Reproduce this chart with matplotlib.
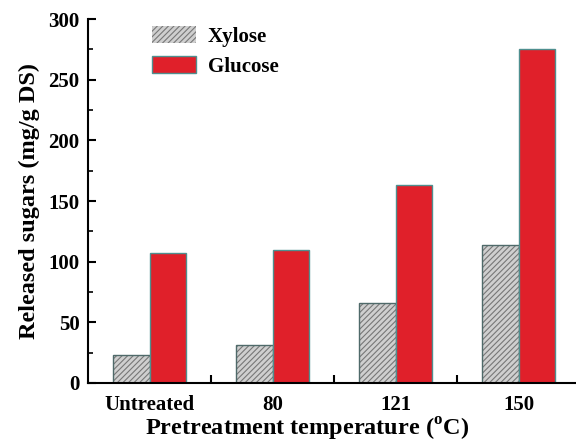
import matplotlib
matplotlib.use("Agg")
import matplotlib.pyplot as plt
import numpy as np
from matplotlib.ticker import MultipleLocator

categories = ["Untreated", "80", "121", "150"]
xylose = [23, 31, 66, 114]
glucose = [107, 110, 163, 275]

plt.rcParams['font.family'] = ['Liberation Serif', 'DejaVu Serif']
plt.rcParams['font.weight'] = 'bold'
plt.rcParams['hatch.linewidth'] = 0.8
plt.rcParams['mathtext.fontset'] = 'custom'
plt.rcParams['mathtext.rm'] = 'Liberation Serif:bold'
plt.rcParams['mathtext.bf'] = 'Liberation Serif:bold'

fig = plt.figure(figsize=(5.76, 4.44), dpi=100)
ax = fig.add_axes([88/576, 1-383/444, (580-88)/576, (383-19)/444])

x = np.arange(len(categories))
w = 0.3
ax.bar(x - w/2, xylose, w, color='#cfcfcf', edgecolor='#777777', hatch='//////', linewidth=0, label='Xylose')
ax.bar(x - w/2, xylose, w, fill=False, edgecolor='#4f6a6a', linewidth=1.0)
ax.bar(x + w/2, glucose, w, color='#e0202a', edgecolor='#4f8f8f', linewidth=1.0, label='Glucose')

ax.set_xlim(-0.5, 3.5)
ax.set_ylim(0, 300)
ax.spines['top'].set_visible(False)
ax.spines['right'].set_visible(False)
ax.spines['left'].set_linewidth(1.5)
ax.spines['bottom'].set_linewidth(1.5)

ax.set_xticks([0.5, 1.5, 2.5])
ax.set_xticklabels([])
ax.tick_params(axis='x', which='major', direction='in', length=6, width=1.5)
for xi, c in zip(x, categories):
    ax.text(xi, -10, c, ha='center', va='top', fontsize=15, fontweight='bold',
            transform=ax.transData)

ax.yaxis.set_major_locator(MultipleLocator(50))
ax.yaxis.set_minor_locator(MultipleLocator(25))
ax.tick_params(axis='y', which='major', direction='in', length=6, width=1.5, labelsize=15, pad=6)
ax.tick_params(axis='y', which='minor', direction='in', length=3.5, width=1.2)
for lab in ax.get_yticklabels():
    lab.set_fontweight('bold')

ax.set_ylabel('Released sugars (mg/g DS)', fontsize=17.5, fontweight='bold', labelpad=6)
fig.text(307/576, 1-429/444, 'Pretreatment temperature ($^{\\mathbf{o}}$C)', ha='center', va='center',
         fontsize=17.5, fontweight='bold')

ax.legend(loc='upper left', bbox_to_anchor=(0.10, 1.02), frameon=False, fontsize=15,
          handlelength=2.1, handleheight=0.85, labelspacing=0.45, handletextpad=0.6,
          borderaxespad=0.3)

fig.savefig('out.png', dpi=100)
